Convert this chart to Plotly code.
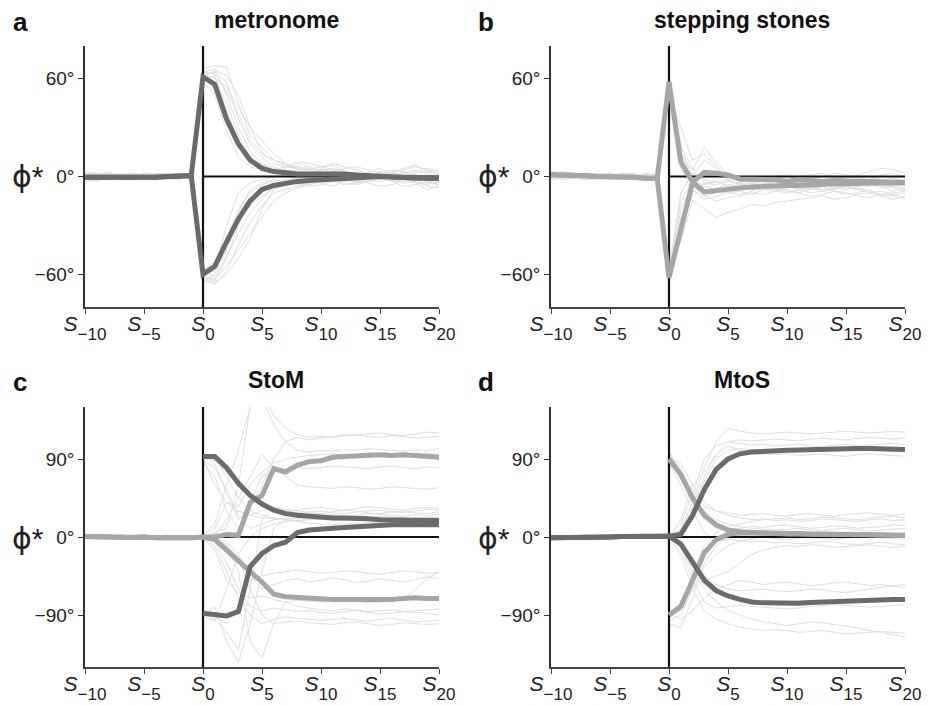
import plotly.graph_objects as go

steps = list(range(-10, 21))
xtick_vals = [-10, -5, 0, 5, 10, 15, 20]
xtick_labels = ["−10", "−5", "0", "5", "10", "15", "20"]
ytick_vals_ab = [-60, 0, 60]
ytick_labels_ab = ["−60°", "0°", "60°"]
ytick_vals_cd = [-90, 0, 90]
ytick_labels_cd = ["−90°", "0°", "90°"]
titles = ["metronome", "stepping stones", "StoM", "MtoS"]
letters = ["a", "b", "c", "d"]
N = None

# ---- panel a: metronome ----
a_thin = [
    [2,1,3,0,-1,2,1,0,1,0, 64,66,50,30,15,8,5,4,3,2, 4,5,3,2,1,0,-2,-1,0,1,-2],
    [-2,-3,-1,0,1,-1,0,2,-1,1, 60,62,40,22,10,6,3,2,6,4, 2,1,0,-1,3,5,2,0,-3,-4,-5],
    [3,2,0,-2,-1,0,2,1,0,2, 66,68,67,45,25,18,10,8,5,4, 6,7,3,1,2,-1,3,4,6,4,2],
    [0,-1,1,2,0,-1,-2,0,1,-1, 58,50,28,12,6,4,2,5,8,6, 3,0,-2,-3,-1,1,0,2,1,-1,0],
    [-1,0,2,1,-2,0,1,-1,0,1, 62,64,58,35,20,12,6,2,0,1, 5,8,6,4,2,1,-3,-6,-5,-3,-4],
    [1,2,-1,0,2,1,-1,0,2,-1, 63,60,55,42,30,22,14,8,4,2, 0,-1,1,2,0,3,2,5,7,3,1],
    [1,0,-1,1,2,-1,0,1,0,1, 61,65,62,50,30,15,8,6,5,3, 2,3,5,6,4,2,1,0,2,3,4],
    [-1,1,0,-1,0,2,1,-1,0,0, 59,58,45,25,12,7,4,6,9,8, 6,4,2,0,-2,-3,-2,0,3,5,3],
    [0,-2,1,0,-1,0,-1,1,2,0, 64,63,52,38,22,14,10,7,6,5, 3,2,1,0,1,2,0,-1,-2,0,1],
    [-1,0,1,-2,-1,0,1,2,0,-1, -62,-64,-50,-30,-14,-8,-6,-4,-3,-2, -1,0,-2,-4,-3,-1,1,3,-2,-6,-7],
    [2,0,-1,1,2,0,-2,1,-1,0, -58,-52,-38,-20,-10,-5,-3,-2,-4,-5, -3,-1,0,2,1,-1,-3,-2,-1,0,-2],
    [0,1,2,0,-1,1,0,-1,1,2, -64,-66,-58,-42,-28,-18,-10,-8,-6,-4, -2,-3,-5,-4,-1,0,2,1,-3,-4,-2],
    [-3,-2,0,1,0,-1,2,1,0,1, -60,-56,-30,-10,-4,-2,0,1,-1,-3, -4,-6,-3,-1,0,2,4,3,1,-2,-5],
    [1,-1,0,2,1,0,-1,-2,0,1, -65,-60,-45,-28,-18,-12,-8,-5,-2,0, 2,1,-1,-2,-4,-6,-5,-3,-2,-1,0],
    [0,2,1,-1,0,2,1,0,-1,0, -57,-62,-48,-35,-22,-14,-6,-3,-1,2, 4,3,0,-3,-2,1,2,-1,-4,-8,-6],
    [2,1,0,-1,1,0,1,-1,-2,1, -61,-63,-55,-45,-35,-25,-15,-10,-7,-5, -3,-2,0,1,2,0,-2,-4,-3,-1,-3],
    [-1,0,-2,1,0,1,-1,0,1,-1, -59,-58,-42,-22,-8,-4,-2,-3,-5,-6, -5,-3,-1,0,1,3,1,-1,-4,-5,-3],
    [0,1,1,-1,-2,0,1,0,0,1, -63,-65,-60,-50,-38,-20,-8,-3,0,1, 0,-2,-4,-5,-3,-2,0,2,4,2,-1],
]
a_dark_up = [-0.5,-0.5,-0.3,-1,-1,-0.8,-0.5,0,0.3,0.5, 61,56.5,35,20,10,5,3,2,1.5,1.5, 1.5,2,1.5,1,0.5,0,-0.5,-0.5,-1,-1,-1]
a_dark_dn = [-0.5,-0.5,-0.3,-1,-1,-0.8,-0.5,0,0.3,0.5, -60,-55,-40,-26,-15,-8,-5.5,-4,-3,-2.5, -2,-1.8,-1.5,-1,-0.5,0,-0.3,-0.5,-1,-1,-1]

# ---- panel b: stepping stones ----
b_thin = [
    [3,2,1,0,2,1,-1,0,1,0, 62,12,4,18,8,2,-2,-4,-3,-5, -6,-4,-3,-5,-6,-4,-3,-5,-7,-6,-8],
    [-1,0,2,1,-2,0,1,2,0,-1, 55,20,-2,-6,-8,-10,-9,-11,-8,-7, -9,-10,-8,-6,-9,-11,-10,-8,-12,-14,-12],
    [2,1,0,-1,1,2,0,-1,1,0, 58,8,-6,-12,-10,-9,-7,-8,-6,-5, -4,-6,-7,-5,-3,-4,-6,-5,-3,-2,-4],
    [0,-2,-1,1,0,-1,2,1,-1,0, 50,30,10,14,6,0,-3,-2,-1,-3, -2,0,1,2,0,-1,1,3,5,4,2],
    [1,3,2,0,-1,1,0,-2,0,1, 60,5,-10,-4,-3,-6,-5,-4,-6,-8, -7,-5,-6,-8,-7,-5,-6,-4,-6,-9,-7],
    [0,1,2,0,-1,0,1,0,-1,0, 61,15,0,10,5,-2,-5,-6,-4,-6, -5,-7,-8,-6,-5,-7,-8,-6,-5,-7,-9],
    [-1,2,0,1,0,-1,0,1,0,1, 57,18,5,-4,-5,-3,-4,-2,-3,-4, -2,-1,-3,-4,-2,0,-1,-2,1,2,0],
    [-1,0,1,2,0,-1,1,0,-1,0, -60,-30,-8,-14,-12,-10,-11,-9,-7,-8, -6,-8,-10,-9,-7,-6,-8,-10,-9,-11,-13],
    [2,0,-1,0,1,2,0,1,0,-1, -62,-20,-5,-9,-7,-5,-4,-6,-5,-3, -4,-5,-3,-2,-4,-3,-1,-2,-4,-3,-5],
    [0,1,0,-2,-1,0,1,-1,2,1, -55,-40,-15,-20,-25,-22,-20,-17,-18,-16, -15,-14,-13,-12,-14,-13,-11,-10,-12,-11,-10],
    [-2,-1,0,1,-1,0,2,1,0,-1, -58,-10,2,-2,-4,-2,-1,-3,-2,0, 1,-1,-2,0,2,1,-1,0,-2,-1,-3],
    [1,0,-1,-2,0,1,-1,0,1,0, -63,-25,-12,-6,-8,-9,-7,-6,-8,-9, -10,-8,-7,-9,-8,-6,-7,-9,-11,-10,-9],
    [1,-1,0,2,1,0,-1,0,1,-1, -61,-15,-3,-12,-15,-13,-12,-10,-11,-9, -8,-10,-12,-11,-9,-10,-12,-13,-11,-12,-14],
    [2,0,1,-1,0,1,0,-1,1,0, -57,-35,-10,-5,-3,-6,-8,-5,-4,-6, -7,-6,-4,-5,-7,-8,-6,-5,-4,-6,-7],
]
b_light_up = [1,1,0.5,0.5,0,0,-0.5,-0.5,-1,-1, 58,9,-3.5,2.5,2,1,-1.5,-1.5,-2,-2, -3,-2,-2.5,-3,-2.5,-3,-3,-3,-3.5,-3.5,-3.5]
b_light_dn = [1,1,0.5,0.5,0,0,-0.5,-0.5,-1,-1, -62,-33,-3.5,-9.5,-8.5,-8,-7,-6.5,-6,-6, -5.5,-5.5,-5,-5,-4.5,-4.5,-4,-4,-4,-4,-4]

# ---- panel c: StoM ----
c_thin = [
    [1,-2,0,3,1,-1,0,2,-1,0, 92,90,70,45,30,25,22,20,22,24, 25,26,24,25,27,26,25,24,26,25,26],
    [0,2,-1,-2,0,1,2,0,1,-1, 95,85,50,20,35,60,90,110,115,112, 114,116,118,117,119,120,118,117,119,121,120],
    [-2,0,1,0,-1,2,0,-1,0,1, -88,-95,-110,-130,-60,20,35,30,28,29, 30,28,27,29,30,31,29,28,30,32,31],
    [2,1,0,-1,1,0,-2,1,0,-1, -92,-80,-120,-145,-100,-40,10,20,18,16, 15,14,16,15,17,16,15,14,16,15,14],
    [-1,0,2,1,-1,0,1,-2,0,1, 0,5,10,60,150,160,130,110,100,98, 100,99,101,100,102,101,100,99,101,100,102],
    [0,-1,1,2,0,-2,1,0,-1,0, 0,-5,-30,-60,-80,-85,-82,-84,-86,-85, -87,-88,-86,-85,-87,-89,-88,-86,-87,-88,-90],
    [1,0,-1,0,2,1,-1,0,1,0, 2,10,40,35,60,75,85,90,92,94, 95,96,94,95,97,96,95,94,96,97,95],
    [-1,1,0,-2,0,1,0,2,-1,0, -2,-10,-40,-70,-90,-100,-95,-92,-94,-95, -96,-95,-94,-96,-97,-95,-94,-96,-98,-97,-96],
    [0,0,1,-1,-1,0,2,1,0,-1, 90,60,40,30,25,22,21,20,19,20, 21,20,19,21,22,20,19,21,20,19,20],
    [2,-1,0,1,0,-1,0,-1,2,0, -90,-98,-60,-20,0,10,15,18,19,20, 21,22,20,19,21,22,21,20,22,21,23],
    [-1,0,0,2,1,-1,-2,0,1,0, 1,0,-5,-20,-45,-60,-55,-50,-48,-52, -50,-47,-49,-53,-51,-48,-50,-52,-49,-46,-48],
    [0,1,-1,0,-1,2,1,0,-1,1, 0,3,20,45,70,95,80,70,60,58, 57,56,58,57,55,56,58,57,56,55,57],
    [1,-1,2,0,1,0,-1,1,0,-1, -1,-15,-50,-65,-70,-68,-72,-75,-73,-74, -75,-73,-72,-74,-76,-75,-73,-72,-60,-48,-40],
    [0,1,0,-1,0,-1,1,2,0,1, 85,70,30,10,40,70,75,78,80,79, 80,82,81,80,79,81,82,80,79,81,80],
    [-2,0,1,1,0,-1,0,1,-1,0, 0,-3,-10,-40,-120,-140,-100,-75,-80,-82, -84,-85,-83,-84,-86,-85,-84,-86,-85,-84,-83],
    [0,1,2,0,-1,1,0,-1,0,1, 93,88,75,60,45,35,32,30,31,33, 34,32,31,33,35,34,32,31,33,34,33],
    [-1,0,1,-2,0,0,1,0,-1,0, -1,2,15,30,25,30,35,32,30,28, 27,29,31,30,28,27,29,30,28,27,29],
    [1,0,-1,1,2,0,-1,1,0,-1, -85,-92,-100,-80,-50,-45,-42,-40,-38,-40, -42,-41,-39,-40,-42,-43,-41,-39,-40,-42,-41],
    [0,-1,0,1,0,2,-1,0,1,0, 2,15,60,100,150,165,140,125,118,115, 116,115,117,118,116,115,117,116,114,115,116],
    [1,1,0,-1,-1,0,0,2,0,-1, 0,-2,-8,-25,-60,-90,-100,-98,-97,-99, -100,-101,-99,-98,-100,-102,-101,-99,-100,-101,-100],
    [-2,0,0,1,1,-1,0,0,-1,1, 88,80,55,25,10,15,20,22,21,23, 22,24,23,21,22,24,23,22,21,23,22],
]
c_dark_up = [N]*10 + [93,93,80,62,48,38,31,27,25,24, 22,22,22,22,21,20,20,20,19.5,19,19]
c_dark_dn = [N]*10 + [-88,-90,-91,-86,-34,-19,-10,-6,5,8, 9.5,10,11,12,13,14,14,14.5,14.5,14,14]
c_light_up = [0.5,0,0.5,0,-0.5,0,-1,-0.5,-1,-1, 0,0,3,2,40,48,79,75,83,87, 88,92,93,94,95,95,94,95,94,93,92]
c_light_dn = [0.5,0,0.5,0,-0.5,0,-1,-0.5,-1,-1, 0,-3,-15,-28,-40,-52,-66,-69,-70,-71, -71,-72,-72,-72,-73,-73,-72,-71,-70,-71,-71]

# ---- panel d: MtoS ----
d_thin = [
    [1,0,-1,2,0,1,-1,0,1,0, 0,10,40,80,110,125,122,120,119,120, 121,120,119,120,121,122,121,120,121,122,121],
    [-1,0,1,0,-1,0,1,1,0,-1, 0,5,30,65,90,100,102,101,100,99, 100,101,100,99,100,101,102,101,100,99,100],
    [0,1,0,-1,1,0,-1,0,2,1, 0,15,50,90,105,110,112,111,112,113, 112,111,113,114,113,112,114,115,114,113,114],
    [1,-1,0,1,0,-1,0,1,-1,0, 0,-10,-40,-60,-75,-85,-90,-95,-98,-100, -102,-100,-98,-99,-101,-103,-105,-108,-110,-113,-115],
    [0,0,1,-1,0,1,-1,0,0,1, 0,-5,-25,-45,-55,-60,-62,-61,-60,-62, -63,-62,-60,-61,-63,-64,-62,-60,-58,-56,-55],
    [-1,1,0,0,1,-1,0,1,0,-1, 0,-12,-50,-75,-82,-80,-79,-80,-81,-82, -83,-82,-80,-79,-78,-79,-80,-81,-80,-79,-78],
    [0,-1,1,0,0,1,0,-1,1,0, 95,80,40,20,10,8,10,12,11,13, 14,12,10,11,13,12,10,11,12,14,13],
    [1,0,0,-1,1,0,-1,0,0,1, 85,60,30,5,-5,-3,-4,-6,-5,-7, -6,-8,-7,-5,-6,-8,-9,-7,-6,-8,-9],
    [0,1,-1,0,0,-1,1,0,1,0, -92,-85,-40,-10,5,12,15,18,20,21, 22,20,21,23,22,21,20,22,23,24,22],
    [-1,0,1,1,0,0,-1,1,0,0, -100,-105,-70,-30,-10,0,2,3,1,2, 4,3,2,1,3,4,2,3,1,2,3],
    [0,1,0,0,-1,1,0,0,-1,1, 100,70,55,35,30,25,22,20,21,19, 20,18,19,21,20,19,18,20,21,19,20],
    [1,0,-1,0,1,0,0,-1,1,0, 0,20,60,75,95,105,100,97,96,95, 96,94,95,96,94,93,95,96,95,94,93],
    [0,0,1,-1,0,1,0,1,-1,0, -95,-80,-60,-50,-45,-40,-30,-20,-15,-12, -10,-11,-9,-10,-12,-11,-10,-9,-11,-12,-10],
    [-1,1,0,0,-1,0,1,0,1,-1, 0,-20,-60,-85,-95,-100,-104,-106,-108,-107, -108,-110,-109,-108,-110,-112,-111,-110,-109,-110,-111],
    [0,1,-1,0,0,1,-1,0,1,0, 98,75,45,30,20,15,12,10,9,8, 9,10,8,7,9,10,8,7,8,9,10],
    [1,-1,0,0,1,0,-1,1,0,0, -97,-90,-60,-35,-20,-10,-5,-2,0,-2, -3,-1,0,-2,-3,-1,0,1,-1,-2,-3],
    [0,0,-1,1,0,0,1,-1,0,1, 0,8,35,70,95,110,108,106,107,105, 106,107,105,104,106,107,105,106,107,108,106],
    [-1,0,1,0,-1,1,0,0,-1,0, 0,-8,-35,-55,-65,-70,-72,-74,-73,-75, -76,-74,-73,-75,-77,-76,-74,-73,-72,-74,-75],
    [1,0,0,-1,0,-1,1,0,0,1, 92,85,60,40,30,28,25,26,27,25, 24,26,27,25,24,26,27,28,26,25,27],
    [0,-1,1,0,1,0,0,-1,1,0, -88,-95,-85,-70,-60,-55,-50,-52,-55,-53, -52,-54,-56,-55,-53,-52,-54,-56,-55,-57,-58],
]
d_dark_up = [-1,-1,-0.5,-0.5,0,0,0.5,0.5,1,1, 1,3,25,55,78,90,96,98,99,100, 100,100.5,101,101.5,102,102,102,102,101.5,101,101]
d_dark_dn = [-1,-1,-0.5,-0.5,0,0,0.5,0.5,1,1, 1,-8,-30,-50,-62,-68,-72,-75,-76,-76.5, -77,-76.5,-75.5,-75,-74,-73,-73,-72.5,-72,-72,-72]
d_light_a = [N]*10 + [90,72,45,25,14,8,6,5,4.5,4, 3.5,3.5,3,3,3,3,2.5,2.5,2,2,2]
d_light_b = [N]*10 + [-90,-80,-50,-18,-3,3,5,5,5,4.5, 4,4,3.5,3.5,3,3,3,2.5,2.5,2,2]

# ---------------------------------------------------------------
# The page body adds an 8px offset; lay out in window pixels and shift.
OFF = 8
W, H = 931 - OFF, 705 - OFF
THIN = "#dfdfdf"
DARK = "#6b6b6b"
LIGHT = "#a6a6a6"
FONT = "Liberation Sans, Arial, sans-serif"

def px(x):
    return (x - OFF) / W

def py(y):
    return 1 - (y - OFF) / H

# plot areas in window pixels: (x0, x1, ytop, ybottom)
boxes = [(85, 439, 46, 307), (551, 905, 46, 307), (85, 439, 407, 667), (551, 905, 407, 667)]
yranges = [[-80, 80], [-80, 80], [-150, 150], [-150, 150]]
yticks = [(ytick_vals_ab, ytick_labels_ab)] * 2 + [(ytick_vals_cd, ytick_labels_cd)] * 2
thin_sets = [a_thin, b_thin, c_thin, d_thin]
# in the switching panels (c, d) the trials restart at S0: no joining segment
split_at_s0 = [False, False, True, True]
thick_sets = [
    [(a_dark_up, DARK), (a_dark_dn, DARK)],
    [(b_light_up, LIGHT), (b_light_dn, LIGHT)],
    [(c_light_up, LIGHT), (c_light_dn, LIGHT), (c_dark_up, DARK), (c_dark_dn, DARK)],
    [(d_light_a, LIGHT), (d_light_b, LIGHT), (d_dark_up, DARK), (d_dark_dn, DARK)],
]

fig = go.Figure()
xtext = [f"<i>S</i><span style=\"font-size:17px;baseline-shift:-9px\">{t}</span>" for t in xtick_labels]

for i in range(4):
    x0, x1, yt, yb = boxes[i]
    xa = "xaxis" if i == 0 else f"xaxis{i+1}"
    ya = "yaxis" if i == 0 else f"yaxis{i+1}"
    xr = "x" if i == 0 else f"x{i+1}"
    yr = "y" if i == 0 else f"y{i+1}"
    fig.layout[xa] = dict(
        domain=[px(x0), px(x1)], anchor=yr, range=[-10, 20], automargin=False,
        showgrid=False, zeroline=False, showline=True, linecolor="#444", linewidth=1.5,
        ticks="outside", ticklen=5, tickcolor="#444", tickwidth=1.2,
        tickvals=xtick_vals, ticktext=xtext, tickangle=0, ticklabelstandoff=-8,
        tickfont=dict(family=FONT, size=21, color="#222"),
    )
    fig.layout[ya] = dict(
        domain=[py(yb), py(yt)], anchor=xr, range=yranges[i], automargin=False,
        showgrid=False, zeroline=False, showline=True, linecolor="#333", linewidth=1.5,
        ticks="outside", ticklen=5, tickcolor="#333", tickwidth=1.2,
        tickvals=yticks[i][0], ticktext=yticks[i][1],
        tickfont=dict(family=FONT, size=19, color="#222"),
    )
    for ys in thin_sets[i]:
        if split_at_s0[i]:
            parts = [(steps[:10], ys[:10]), (steps[10:], ys[10:])]
        else:
            parts = [(steps, ys)]
        for xs_p, ys_p in parts:
            fig.add_trace(go.Scatter(x=xs_p, y=ys_p, mode="lines", xaxis=xr, yaxis=yr,
                                     line=dict(color=THIN, width=1), hoverinfo="skip"))
    # reference lines: zero line from S0 onward, vertical at S0
    fig.add_trace(go.Scatter(x=[0, 20], y=[0, 0], mode="lines", xaxis=xr, yaxis=yr,
                             line=dict(color="#111", width=2), hoverinfo="skip"))
    fig.add_trace(go.Scatter(x=[0, 0], y=yranges[i], mode="lines", xaxis=xr, yaxis=yr,
                             line=dict(color="#111", width=2.2), hoverinfo="skip"))
    for ys, col in thick_sets[i]:
        fig.add_trace(go.Scatter(x=steps, y=ys, mode="lines", xaxis=xr, yaxis=yr,
                                 line=dict(color=col, width=5), hoverinfo="skip"))
    # annotations
    fig.add_annotation(x=px(x0 + 191), y=py(20 if i < 2 else 380), xref="paper", yref="paper",
                       text=f"<b>{titles[i]}</b>", showarrow=False,
                       font=dict(family=FONT, size=23, color="#111"), xanchor="center", yanchor="middle")
    fig.add_annotation(x=px(x0 - 65), y=py(22 if i < 2 else 382), xref="paper", yref="paper",
                       text=f"<b>{letters[i]}</b>", showarrow=False,
                       font=dict(family=FONT, size=26, color="#111"), xanchor="center", yanchor="middle")
    ymid = 176 if i < 2 else 537
    fig.add_annotation(x=px(x0 - 57), y=py(ymid + 1), xref="paper", yref="paper",
                       text="<span style=\"font-family:'DejaVu Sans'\">ϕ</span>*", showarrow=False,
                       font=dict(family=FONT, size=30, color="#222"), xanchor="center", yanchor="middle")

fig.update_layout(
    width=W, height=H, margin=dict(l=0, r=0, t=0, b=0, autoexpand=False),
    paper_bgcolor="white", plot_bgcolor="white", showlegend=False,
)
fig.write_html("out.html")
